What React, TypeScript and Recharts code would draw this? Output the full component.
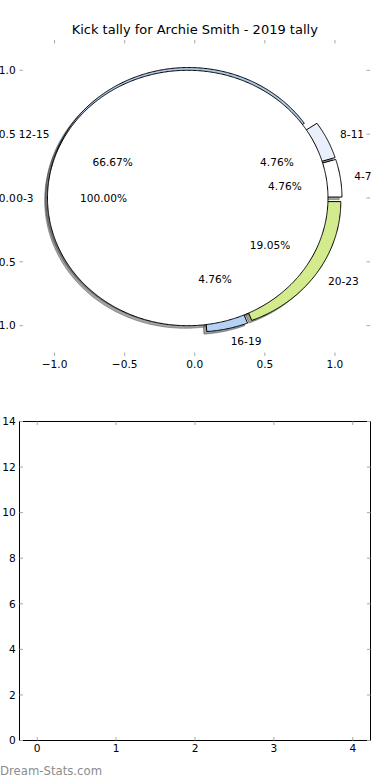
import React from 'react';
import { PieChart, Pie, Cell, ComposedChart, XAxis, YAxis, Bar } from 'recharts';

// ---- data ----
const ringCategories = ['4-7', '8-11', '12-15', '16-19', '20-23'];
const ringValues = [1, 1, 14, 1, 4];
const baseCategories = ['0-3'];
const baseValues = [1];
const pieXTicks = [-1, -0.5, 0, 0.5, 1];
const pieYTicks = [-1, -0.5, 0, 0.5, 1];
const barCategories = [0, 1, 2, 3, 4];
const barValues = [0, 0, 0, 0, 0];
const barYTicks = [0, 2, 4, 6, 8, 10, 12, 14];

// ---- styles ----
const ringColors = ['#ffffff', '#e9effb', '#afc7e6', '#b5d2f5', '#d3eb8c'];
const baseColors = ['#ffffff'];
const FONT = '"DejaVu Sans", sans-serif';
const TICK = '#a8a8a8';
const EXPLODE = 0.05;
const SHADOW = 0.02;
const Y_RATIO = 127.7 / 140.25;
const RAD = Math.PI / 180;

const ringData = ringCategories.map((name, i) => ({ name, value: ringValues[i] }));
const baseData = baseCategories.map((name, i) => ({ name, value: baseValues[i] }));
const barData = barCategories.map((x, i) => ({ x, v: barValues[i] }));

const fmt1 = (v: number) => v.toFixed(1).replace('-', '\u2212');
const blank = () => '';

function wedgePath(cx: number, cy: number, rx: number, ry: number, a0: number, a1: number) {
  const full = Math.abs(a1 - a0) >= 359.99;
  const mid = ((a0 + a1) / 2) * RAD;
  const ox = cx + EXPLODE * rx * Math.cos(mid);
  const oy = cy - EXPLODE * ry * Math.sin(mid);
  const steps = Math.max(2, Math.ceil(Math.abs(a1 - a0) * 2));
  let d = full ? '' : `M${ox.toFixed(2)},${oy.toFixed(2)} `;
  for (let i = 0; i <= steps; i++) {
    const a = (a0 + ((a1 - a0) * i) / steps) * RAD;
    const x = ox + rx * Math.cos(a);
    const y = oy - ry * Math.sin(a);
    d += (i === 0 && full ? 'M' : 'L') + x.toFixed(2) + ',' + y.toFixed(2) + ' ';
  }
  return d + 'Z';
}

function darken(hex: string) {
  const n = parseInt(hex.slice(1), 16);
  const r = Math.round(((n >> 16) & 255) * 0.3);
  const g = Math.round(((n >> 8) & 255) * 0.3);
  const b = Math.round((n & 255) * 0.3);
  return `rgb(${r},${g},${b})`;
}

const shadowShape = (p: any) => {
  if (Math.abs(p.endAngle - p.startAngle) < 1e-6) return <g />;
  const rx = p.outerRadius;
  const ry = rx * Y_RATIO;
  const d = wedgePath(p.cx - SHADOW * rx, p.cy + SHADOW * ry, rx, ry, p.startAngle, p.endAngle);
  const c = darken(p.fill);
  return <path d={d} fill={c} stroke={c} fillOpacity={0.5} strokeOpacity={0.5} strokeWidth={1} />;
};

const wedgeShape = (p: any) => {
  if (Math.abs(p.endAngle - p.startAngle) < 1e-6) return <g />;
  const rx = p.outerRadius;
  const ry = rx * Y_RATIO;
  const d = wedgePath(p.cx, p.cy, rx, ry, p.startAngle, p.endAngle);
  return <path d={d} fill={p.fill} stroke="#000" strokeWidth={1} />;
};

const hiddenShape = () => <g />;

const pieLabel = (p: any) => {
  const rx = p.outerRadius;
  const ry = rx * Y_RATIO;
  const m = p.midAngle * RAD;
  const c = Math.cos(m);
  const s = Math.sin(m);
  const lx = p.cx + (EXPLODE + 1.1) * rx * c;
  const ly = p.cy - (EXPLODE + 1.1) * ry * s;
  const px = p.cx + (EXPLODE + 0.6) * rx * c;
  const py = p.cy - (EXPLODE + 0.6) * ry * s;
  const st = { fontFamily: FONT, fontSize: 10.6, fill: '#000' };
  return (
    <g>
      <text x={lx} y={ly} textAnchor={c > 0 ? 'start' : 'end'} dominantBaseline="central" style={st}>
        {p.name}
      </text>
      <text x={px} y={py} textAnchor="middle" dominantBaseline="central" style={st}>
        {(p.percent * 100).toFixed(2)}%
      </text>
    </g>
  );
};

const tickStyle = { fontSize: 10.6, fill: '#000', fontFamily: FONT };

export default function App() {
  const pieCx = 194.75;
  const pieCy = 198;
  const pieR = 140.25;
  return (
    <div style={{ position: 'absolute', left: 0, top: 0, width: 390, height: 780, background: '#fff' }}>
      {/* axes for pie plot */}
      <div style={{ position: 'absolute', left: 0, top: 0 }}>
        <ComposedChart width={390} height={380} margin={{ top: 39, right: 19, bottom: 4, left: 0 }} data={[{ x: 0, y: 0 }]}>
          <XAxis xAxisId="b" type="number" dataKey="x" domain={[-1.25, 1.25]} ticks={pieXTicks} orientation="bottom" height={20}
            axisLine={false} tickLine={{ stroke: TICK }} tickSize={-3.5} tickMargin={8.3} tick={tickStyle} tickFormatter={fmt1}
            allowDataOverflow interval={0} />
          <XAxis xAxisId="t" type="number" dataKey="x" domain={[-1.25, 1.25]} ticks={pieXTicks} orientation="top" height={1}
            axisLine={false} tickLine={{ stroke: TICK }} tickSize={-3.5} tick={tickStyle} tickFormatter={blank} allowDataOverflow interval={0} />
          <YAxis yAxisId="l" type="number" dataKey="y" domain={[-1.2375, 1.2375]} ticks={pieYTicks} orientation="left" width={19.5}
            axisLine={false} tickLine={{ stroke: TICK }} tickSize={-3.5} tickMargin={7.3} tick={tickStyle} tickFormatter={fmt1}
            allowDataOverflow interval={0} />
          <YAxis yAxisId="r" type="number" dataKey="y" domain={[-1.2375, 1.2375]} ticks={pieYTicks} orientation="right" width={1}
            axisLine={false} tickLine={{ stroke: TICK }} tickSize={-3.5} tick={tickStyle} tickFormatter={blank} allowDataOverflow interval={0} />
        </ComposedChart>
      </div>
      {/* the pie */}
      <div style={{ position: 'absolute', left: 0, top: 0 }}>
        <PieChart width={390} height={380} margin={{ top: 0, right: 0, bottom: 0, left: 0 }}>
          <Pie data={ringData} dataKey="value" nameKey="name" cx={pieCx} cy={pieCy} outerRadius={pieR} startAngle={0} endAngle={360}
            shape={shadowShape} isAnimationActive={false} labelLine={false} label={false} stroke="none">
            {ringData.map((d, i) => <Cell key={d.name} fill={ringColors[i]} />)}
          </Pie>
          <Pie data={baseData} dataKey="value" nameKey="name" cx={pieCx} cy={pieCy} outerRadius={pieR} startAngle={0} endAngle={360}
            shape={shadowShape} isAnimationActive={false} labelLine={false} label={false} stroke="none">
            {baseData.map((d, i) => <Cell key={d.name} fill={baseColors[i]} />)}
          </Pie>
          <Pie data={ringData} dataKey="value" nameKey="name" cx={pieCx} cy={pieCy} outerRadius={pieR} startAngle={0} endAngle={360}
            shape={wedgeShape} isAnimationActive={false} labelLine={false} label={false} stroke="none">
            {ringData.map((d, i) => <Cell key={d.name} fill={ringColors[i]} />)}
          </Pie>
          <Pie data={baseData} dataKey="value" nameKey="name" cx={pieCx} cy={pieCy} outerRadius={pieR} startAngle={0} endAngle={360}
            shape={wedgeShape} isAnimationActive={false} labelLine={false} label={pieLabel} stroke="none">
            {baseData.map((d, i) => <Cell key={d.name} fill={baseColors[i]} />)}
          </Pie>
          <Pie data={ringData} dataKey="value" nameKey="name" cx={pieCx} cy={pieCy} outerRadius={pieR} startAngle={0} endAngle={360}
            shape={hiddenShape} fill="none" stroke="none" isAnimationActive={false} labelLine={false} label={pieLabel} />
        </PieChart>
      </div>
      {/* bottom empty bar axes */}
      <div style={{ position: 'absolute', left: 0, top: 390 }}>
        <ComposedChart width={390} height={390} margin={{ top: 30.5, right: 18.5, bottom: 19.5, left: 0 }} data={barData}>
          <XAxis xAxisId="b" type="number" dataKey="x" domain={[-0.225, 4.225]} ticks={barCategories} orientation="bottom" height={20}
            axisLine={{ stroke: '#000' }} tickLine={{ stroke: TICK }} tickSize={-3.5} tickMargin={7.6} tick={tickStyle}
            allowDataOverflow interval={0} />
          <XAxis xAxisId="t" type="number" dataKey="x" domain={[-0.225, 4.225]} ticks={barCategories} orientation="top" height={1}
            axisLine={{ stroke: '#000' }} tickLine={{ stroke: TICK }} tickSize={-3.5} tick={tickStyle} tickFormatter={blank}
            allowDataOverflow interval={0} />
          <YAxis yAxisId="l" type="number" domain={[0, 14]} ticks={barYTicks} orientation="left" width={19.5}
            axisLine={{ stroke: '#000' }} tickLine={{ stroke: TICK }} tickSize={-3.5} tickMargin={7.3} tick={tickStyle}
            allowDataOverflow interval={0} />
          <YAxis yAxisId="r" type="number" domain={[0, 14]} ticks={barYTicks} orientation="right" width={1}
            axisLine={{ stroke: '#000' }} tickLine={{ stroke: TICK }} tickSize={-3.5} tick={tickStyle} tickFormatter={blank}
            allowDataOverflow interval={0} />
          <Bar xAxisId="b" yAxisId="l" dataKey="v" barSize={8} fill="#4c72b0" isAnimationActive={false} />
        </ComposedChart>
      </div>
      {/* title & watermark */}
      <svg width={390} height={780} style={{ position: 'absolute', left: 0, top: 0, pointerEvents: 'none' }}>
        <text x={194.75} y={34} textAnchor="middle" style={{ fontFamily: FONT, fontSize: 13, fill: '#000' }}>
          Kick tally for Archie Smith - 2019 tally
        </text>
        <text x={0} y={775} style={{ fontFamily: FONT, fontSize: 11.7, fill: '#8c8c8c' }}>
          Dream-Stats.com
        </text>
      </svg>
    </div>
  );
}
